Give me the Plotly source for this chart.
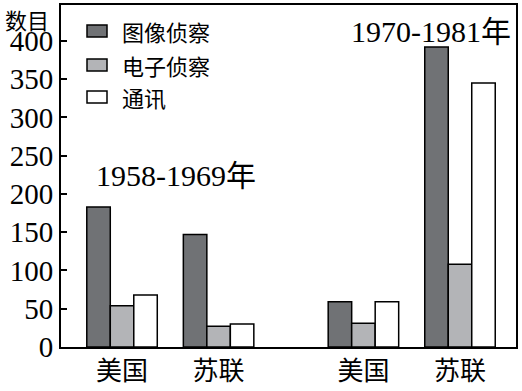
import plotly.graph_objects as go

# ---- data ----
positions = [0, 1, 2.5, 3.5]
categories = ["美国", "苏联", "美国", "苏联"]
series_names = ["图像侦察", "电子侦察", "通讯"]
image_recon = [183, 147, 59, 392]
electronic_recon = [54, 27, 31, 108]
communication = [68, 30, 59, 345]
y_ticks = [0, 50, 100, 150, 200, 250, 300, 350, 400]
period_labels = ["1958-1969年", "1970-1981年"]

colors = ["#707275", "#b3b4b7", "#ffffff"]
values = [image_recon, electronic_recon, communication]

SERIF = "Liberation Serif, Noto Sans CJK SC, serif"
CJK = "Noto Sans CJK SC, sans-serif"

fig = go.Figure()
for name, vals, col in zip(series_names, values, colors):
    fig.add_trace(go.Bar(
        x=positions, y=vals, name=name,
        marker=dict(color=col, line=dict(color="black", width=1.5)),
        showlegend=False,
    ))

L, R, T, B = 61, 6, 5, 44
W, H = 522, 391
pw, ph = W - L - R, H - T - B

def px(x):
    return (x - L) / pw

def py(y):
    return (H - B - y) / ph

# manual legend
shapes = []
annotations = []
leg_rows = [31, 65, 97]
for name, col, yc in zip(series_names, colors, leg_rows):
    shapes.append(dict(type="rect", xref="paper", yref="paper",
                       x0=px(87), x1=px(107), y0=py(yc + 6), y1=py(yc - 6),
                       fillcolor=col, line=dict(color="black", width=1.5)))
    annotations.append(dict(text=name, xref="paper", yref="paper",
                            x=px(120), y=py(yc), xanchor="left", yanchor="middle",
                            showarrow=False, font=dict(family=CJK, size=22, color="black")))

annotations.append(dict(text="数目", xref="paper", yref="paper",
                        x=px(27), y=py(1), xanchor="center", yanchor="top",
                        showarrow=False, font=dict(family=CJK, size=22, color="black")))
annotations.append(dict(text=period_labels[0], xref="paper", yref="paper",
                        x=px(176), y=py(175), xanchor="center", yanchor="middle",
                        showarrow=False, font=dict(family=SERIF, size=30, color="black")))
annotations.append(dict(text=period_labels[1], xref="paper", yref="paper",
                        x=px(431), y=py(31), xanchor="center", yanchor="middle",
                        showarrow=False, font=dict(family=SERIF, size=30, color="black")))

fig.update_layout(
    width=W, height=H,
    margin=dict(l=L, r=R, t=T, b=B, pad=0, autoexpand=False),
    paper_bgcolor="white", plot_bgcolor="white",
    barmode="group", bargap=0.27, bargroupgap=0,
    shapes=shapes, annotations=annotations,
    xaxis=dict(range=[-0.632, 4.08], tickvals=positions, ticktext=categories,
               showline=True, linecolor="black", linewidth=2, mirror=True,
               ticks="", showgrid=False, zeroline=False, automargin=False,
               tickfont=dict(family=CJK, size=26, color="black")),
    yaxis=dict(range=[0, 447], tickvals=y_ticks,
               showline=True, linecolor="black", linewidth=2, mirror=True,
               ticks="inside", ticklen=6, tickwidth=1.5, tickcolor="black",
               showgrid=False, zeroline=False, automargin=False,
               tickfont=dict(family=SERIF, size=29, color="black")),
)

fig.write_html("out.html", config={"displayModeBar": False},
               post_script="document.body.style.margin='0';document.body.style.padding='0';")
